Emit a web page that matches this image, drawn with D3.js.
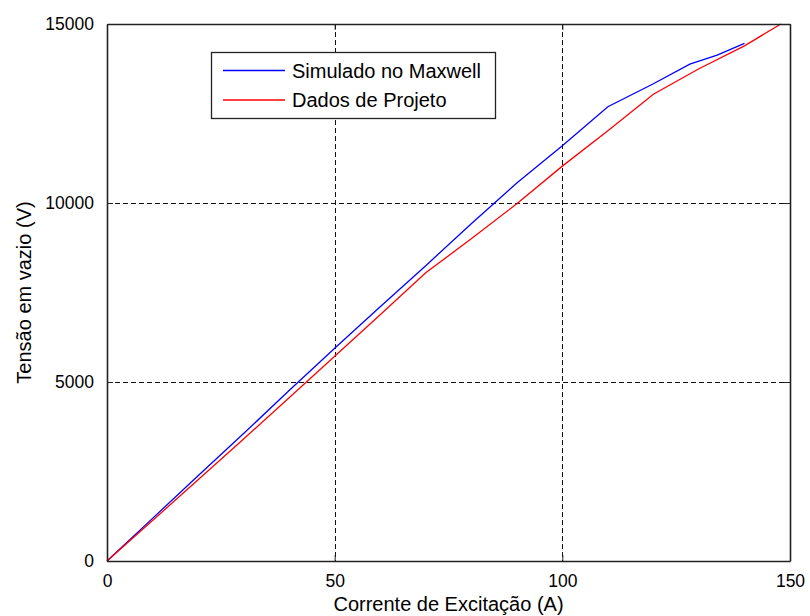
<!DOCTYPE html>
<html>
<head>
<meta charset="utf-8">
<script src="https://cdn.jsdelivr.net/npm/d3@7"></script>
<style>
  html, body { margin: 0; padding: 0; background: #fff; }
  svg text { font-family: "Liberation Sans", Arial, sans-serif; fill: #000; }
</style>
</head>
<body>
<svg id="chart" width="810" height="616"></svg>
<script>
// Excitation current (A) and open-circuit voltage (V)
const simCurrent = [0, 10, 20, 30, 40, 50, 60, 70, 80, 90, 100, 110, 120, 128, 134, 140];
const simVoltage = [0, 1190, 2380, 3560, 4760, 5940, 7100, 8250, 9420, 10560, 11600, 12690, 13330, 13880, 14130, 14460];
const projCurrent = [0, 10, 20, 30, 40, 50, 60, 70, 80, 90, 100, 110, 120, 130, 140, 148];
const projVoltage = [0, 1130, 2270, 3410, 4560, 5720, 6880, 8050, 9000, 9980, 11030, 12020, 13040, 13750, 14390, 15000];

const xTicks = [0, 50, 100, 150];
const yTicks = [0, 5000, 10000, 15000];
const seriesNames = ["Simulado no Maxwell", "Dados de Projeto"];
const seriesColors = ["#0000ff", "#ff0000"];

const svg = d3.select("#chart");
const plotL = 107, plotR = 790, plotT = 24, plotB = 561;

const x = d3.scaleLinear().domain([0, 150]).range([plotL, plotR]);
const y = d3.scaleLinear().domain([0, 15000]).range([plotB, plotT]);

// dashed grid
const grid = svg.append("g").attr("stroke", "#111").attr("stroke-width", 1)
  .attr("stroke-dasharray", "5,3").attr("shape-rendering", "crispEdges");
grid.selectAll("line.gx").data(xTicks.filter(d => d > 0 && d < 150)).join("line")
  .attr("x1", d => Math.round(x(d)) + 0.5).attr("x2", d => Math.round(x(d)) + 0.5)
  .attr("y1", plotT).attr("y2", plotB);
grid.selectAll("line.gy").data(yTicks.filter(d => d > 0 && d < 15000)).join("line")
  .attr("y1", d => Math.round(y(d)) + 0.5).attr("y2", d => Math.round(y(d)) + 0.5)
  .attr("x1", plotL).attr("x2", plotR);

// data lines
const line = d3.line().x(d => x(d[0])).y(d => y(d[1]));
const series = [
  d3.zip(simCurrent, simVoltage),
  d3.zip(projCurrent, projVoltage)
];
series.forEach((s, i) => {
  svg.append("path").datum(s).attr("d", line)
    .attr("fill", "none").attr("stroke", seriesColors[i]).attr("stroke-width", 1.3);
});

// axes with inward ticks, box on all sides
const fmt = d3.format("d");
const axB = svg.append("g").attr("transform", `translate(0,${plotB})`)
  .call(d3.axisBottom(x).tickValues(xTicks).tickFormat(fmt).tickSizeInner(-6).tickSizeOuter(0).tickPadding(14));
const axL = svg.append("g").attr("transform", `translate(${plotL},0)`)
  .call(d3.axisLeft(y).tickValues(yTicks).tickFormat(fmt).tickSizeInner(-6).tickSizeOuter(0).tickPadding(13));
const axT = svg.append("g").attr("transform", `translate(0,${plotT})`)
  .call(d3.axisTop(x).tickValues(xTicks).tickFormat("").tickSizeInner(-6).tickSizeOuter(0));
const axR = svg.append("g").attr("transform", `translate(${plotR},0)`)
  .call(d3.axisRight(y).tickValues(yTicks).tickFormat("").tickSizeInner(-6).tickSizeOuter(0));
[axB, axL, axT, axR].forEach(a => {
  a.select(".domain").attr("stroke", "#222").attr("stroke-width", 1.6);
  a.selectAll(".tick line").attr("stroke", "#222");
  a.selectAll("text").attr("font-size", 17.5).attr("fill", "#000")
    .attr("font-family", "'Liberation Sans', Arial, sans-serif");
});

// axis titles
svg.append("text").attr("x", (plotL + plotR) / 2).attr("y", 611)
  .attr("text-anchor", "middle").attr("font-size", 20).text("Corrente de Excitação (A)");
svg.append("text").attr("transform", `translate(31,${(plotT + plotB) / 2}) rotate(-90)`)
  .attr("text-anchor", "middle").attr("font-size", 20).text("Tensão em vazio (V)");

// legend
const lg = svg.append("g");
lg.append("rect").attr("x", 211.5).attr("y", 52.5).attr("width", 284).attr("height", 66)
  .attr("fill", "#fff").attr("stroke", "#222").attr("stroke-width", 1.3);
seriesNames.forEach((name, i) => {
  const yy = 70.5 + i * 29.5;
  lg.append("line").attr("x1", 223).attr("x2", 285).attr("y1", yy).attr("y2", yy)
    .attr("stroke", seriesColors[i]).attr("stroke-width", 1.3);
  lg.append("text").attr("x", 292).attr("y", yy + 7).attr("font-size", 20).text(name);
});
</script>
</body>
</html>
